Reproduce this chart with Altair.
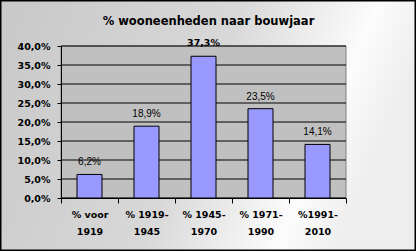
import altair as alt
import pandas as pd

categories = ["% voor\n1919", "% 1919-\n1945", "% 1945-\n1970", "% 1971-\n1990", "%1991-\n2010"]
values = [0.062, 0.189, 0.373, 0.235, 0.141]
y_ticks = [0.0, 0.05, 0.10, 0.15, 0.20, 0.25, 0.30, 0.35, 0.40]
title_text = "% wooneenheden naar bouwjaar"

W, H = 285, 152
PL, PT, PR, PB = 61, 46, 416 - 61 - 285, 251 - 46 - 152

df = pd.DataFrame({"cat": categories, "v": values})
df["bold"] = df["v"] == df["v"].max()
grid_df = pd.DataFrame({"t": y_ticks})

fmt_expr = "replace(format(datum.v*100, '.1f'), '.', ',') + '%'"

xaxis = alt.Axis(labelExpr="datum.label ? split(datum.label, '\\n') : ''", labelAngle=0,
                 labelFont="DejaVu Sans", labelFontSize=9.5, labelFontWeight="bold",
                 labelColor="black", labelLineHeight=17, labelPadding=6,
                 tickBand="extent", tickSize=5, tickColor="black",
                 domainColor="black", grid=False, zindex=1, labelBaseline="top")
xscale = alt.Scale(paddingInner=0, paddingOuter=0)
yaxis = alt.Axis(values=y_ticks,
                 labelExpr="replace(format(datum.value*100, '.1f'), '.', ',') + '%'",
                 labelFont="DejaVu Sans", labelFontSize=9.5, labelFontWeight="bold",
                 labelColor="black", labelPadding=7, tickSize=4, tickColor="black",
                 domainColor="black", grid=False, zindex=1)
yscale = alt.Scale(domain=[0, 0.4], nice=False)


def X():
    return alt.X("cat:N", sort=categories, title=None, scale=xscale, axis=xaxis)


def Y(field):
    return alt.Y(field, scale=yscale, title=None, axis=yaxis)


bg = alt.Chart(pd.DataFrame({"a": [0]})).mark_rect(
    stroke="black", strokeWidth=1.5,
    color=alt.LinearGradient(gradient="linear", x1=0, y1=0, x2=1, y2=0.25,
                             stops=[alt.GradientStop(offset=0, color="#c8c8c8"),
                                    alt.GradientStop(offset=0.55, color="#d8d8d8"),
                                    alt.GradientStop(offset=0.86, color="#fcfcfc"),
                                    alt.GradientStop(offset=1, color="#eeeeee")])
).encode(x=alt.value(-PL + 0.75), x2=alt.value(W + PR - 0.75),
         y=alt.value(-PT + 0.75), y2=alt.value(H + PB - 0.75))

plot_bg = alt.Chart(pd.DataFrame({"a": [0]})).mark_rect(
    fill="#c0c0c0", stroke="#808080", strokeWidth=1
).encode(x=alt.value(0), x2=alt.value(W), y=alt.value(0), y2=alt.value(H))

title = alt.Chart(pd.DataFrame({"a": [0]})).mark_text(
    text=title_text, font="DejaVu Sans", fontSize=11.5, fontWeight="bold",
    color="black", align="center", baseline="middle"
).encode(x=alt.value(W / 2 + 5), y=alt.value(-24.5))

grid = alt.Chart(grid_df).mark_rule(color="black", strokeWidth=1).encode(
    y=Y("t:Q"), x=alt.value(0), x2=alt.value(W))

bars = alt.Chart(df).mark_bar(color="#9999ff", stroke="black", strokeWidth=1, size=25).encode(
    x=X(), y=Y("v:Q"))

labels = alt.Chart(df).transform_filter("!datum.bold").transform_calculate(lbl=fmt_expr).mark_text(
    font="Liberation Sans", fontSize=10, color="black", baseline="bottom", dy=-7
).encode(x=X(), y=Y("v:Q"), text="lbl:N")

labels_b = alt.Chart(df).transform_filter("datum.bold").transform_calculate(lbl=fmt_expr).mark_text(
    font="DejaVu Sans", fontSize=9.5, fontWeight="bold", color="black", baseline="bottom", dy=-8
).encode(x=X(), y=Y("v:Q"), text="lbl:N")

chart = alt.layer(bg, plot_bg, title, grid, bars, labels, labels_b).properties(
    width=W, height=H,
    autosize=alt.AutoSizeParams(type="none"),
    padding={"left": PL, "top": PT, "right": PR, "bottom": PB},
).configure_view(stroke=None).configure(background="white")

chart.save("out.html", embed_options={"renderer": "svg", "actions": False})
